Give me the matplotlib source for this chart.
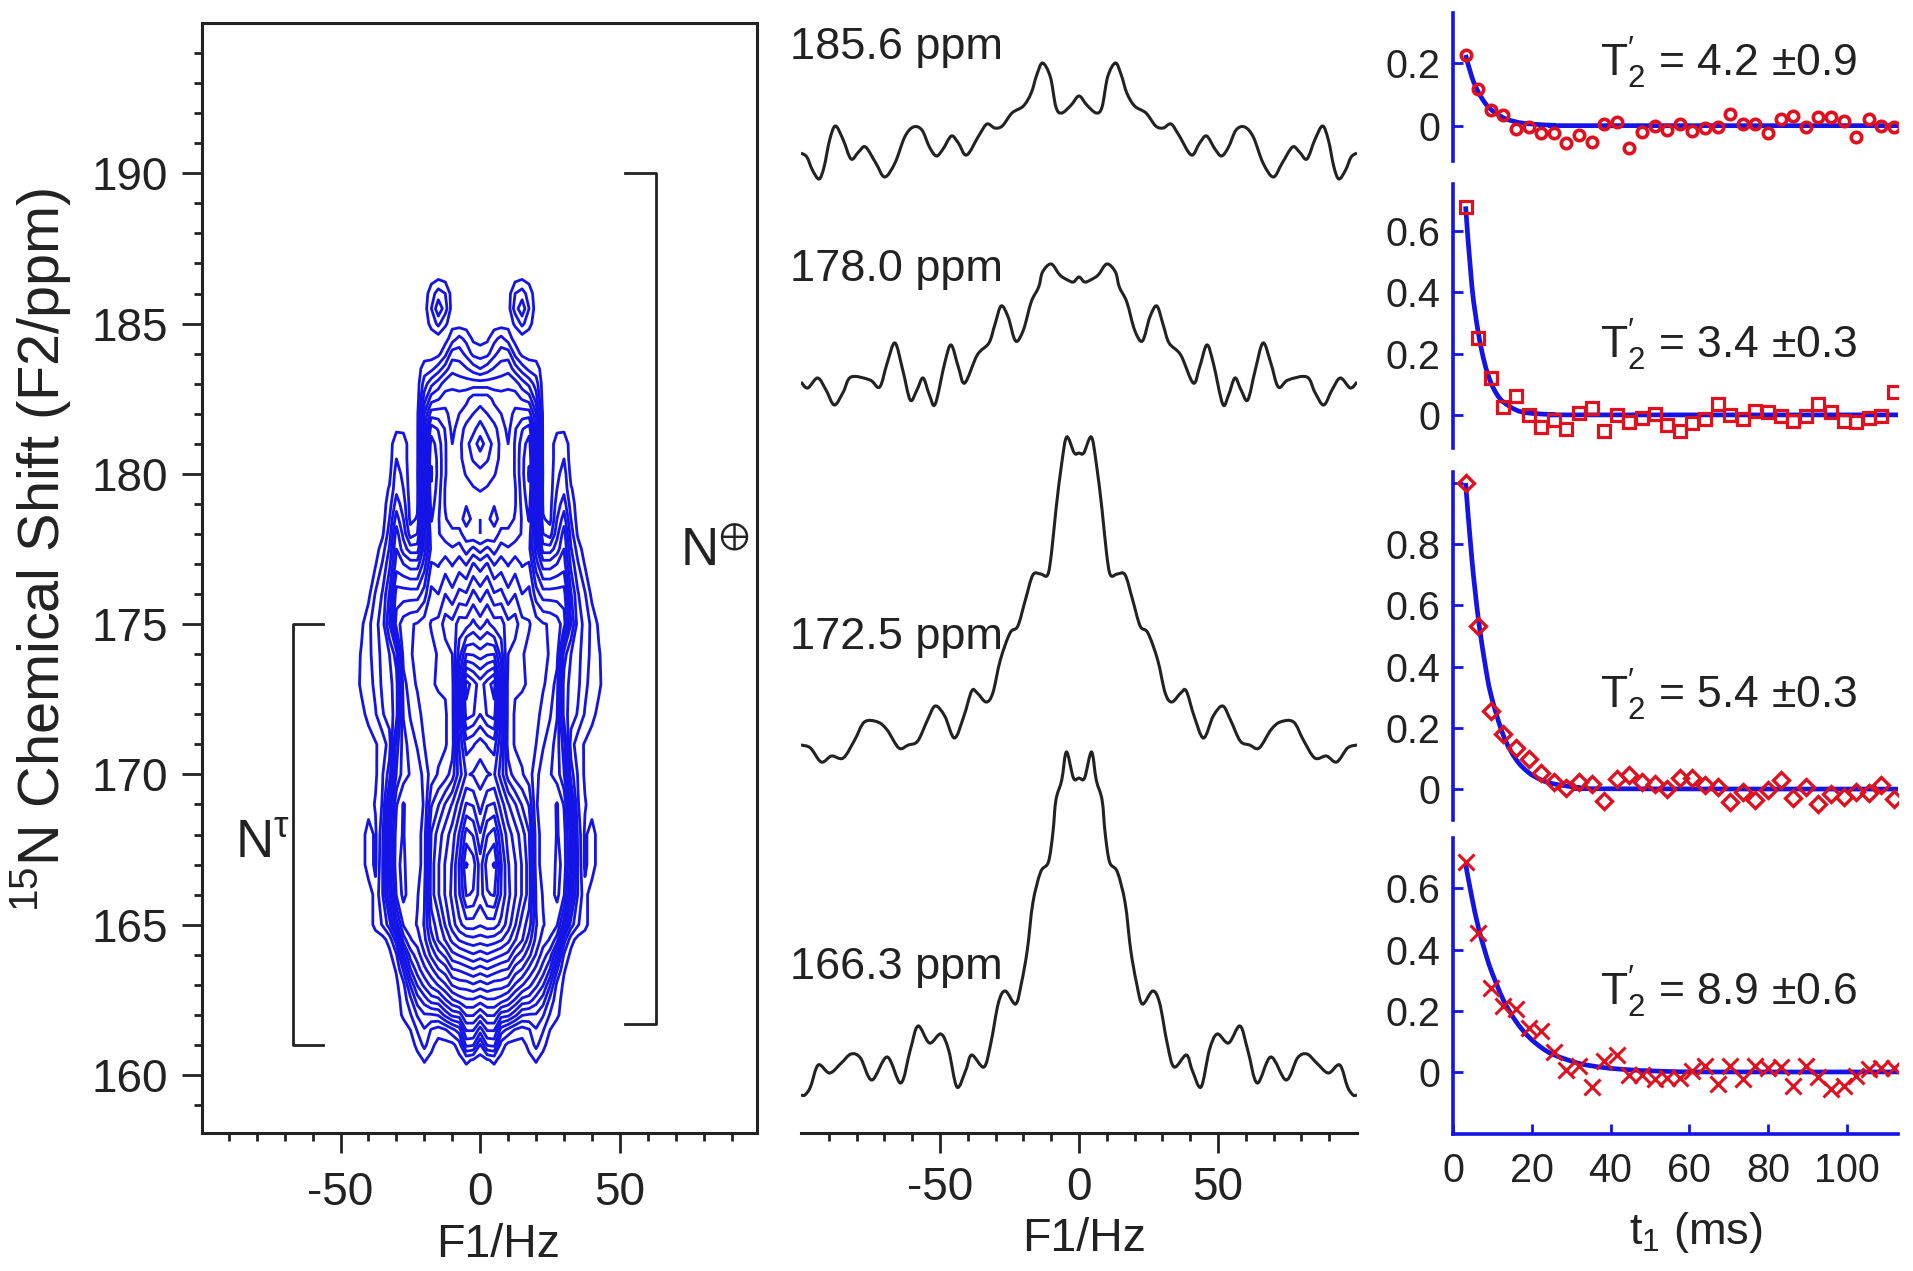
import numpy as np
import matplotlib
matplotlib.use('Agg')
import matplotlib.pyplot as plt
from matplotlib.path import Path
from matplotlib.patches import PathPatch

plt.rcParams['font.family'] = ['Liberation Sans', 'DejaVu Sans']
plt.rcParams['mathtext.fontset'] = 'custom'
plt.rcParams['mathtext.rm'] = 'Liberation Sans'
plt.rcParams['mathtext.it'] = 'Liberation Sans'
plt.rcParams['mathtext.default'] = 'regular'
plt.rcParams['axes.unicode_minus'] = False

W, H = 1913, 1271
BLUE = '#1414e6'
RED = '#e0101e'
DARK = '#222222'

# 2D spectrum, contour level (right half, mirrored at F1 = 0)
f1_cols = [0, 2.5, 5, 7.5, 10, 12.5, 15, 17.5, 20, 22.5, 25, 27.5, 30, 32.5, 35, 37.5, 40, 42.5, 45]
ppm_rows = [160, 160.5, 161, 161.5, 162, 162.5, 163, 163.5, 164, 164.5, 165,
            166, 167, 168, 169, 170, 171, 172, 173, 174, 175, 176, 177,
            177.5, 178, 178.5, 179, 179.5, 180, 180.5, 181, 181.5, 182, 182.5,
            183, 183.5, 184, 184.5, 185, 185.5, 186, 186.5, 187]
level_rows = [
    [],
    [0, .4, .7, .2, 0, 0, 0, .2, .6, .1],
    [1.4, 3.6, 3.8, 1, .2, .1, .1, .8, 1.8, .8],
    [4, 5.6, 5.6, 3, 2.2, 1.4, 1, 1.4, 2.4, 1.6, .5],
    [6.6, 7.6, 7.6, 6, 5.8, 4.8, 3.6, 3.4, 3.4, 2.6, 1.4, .7],
    [9, 9.4, 9.4, 9, 8.4, 7.4, 6.2, 6, 5, 4, 2.2, .9, .1],
    [11, 11.4, 11, 11, 10.6, 9.4, 8.6, 7.8, 6.8, 5.6, 3.6, 1.2, .3],
    [13, 13.4, 13, 12.6, 12.4, 11, 10.4, 9.2, 8.2, 7, 5.4, 2.6, .6],
    [15, 15.4, 15, 14.6, 14.2, 12.8, 12, 10.8, 9.4, 8, 7, 4.4, 1.4, .2],
    [17, 17.2, 17, 16.6, 15.8, 14.6, 13.6, 12, 10.2, 9, 8.4, 7, 3, .9, .1],
    [18.6, 19, 19, 18.2, 17, 15.6, 14, 13, 10.6, 9.6, 9, 8.6, 6, 3, 1.6, .8],
    [20, 21.4, 21.6, 19.4, 17.8, 16.6, 15.4, 14, 10.4, 9.4, 9, 9.8, 8.6, 5.4, 2.4, .8],
    [20, 22, 22.6, 19.6, 17.6, 16.6, 15.4, 14, 10, 9, 8.6, 9.8, 9.2, 6, 2.4, .3, 1],
    [18.6, 20.4, 21, 18.6, 17, 16, 15, 13.6, 10, 9, 8.6, 9.6, 9, 6, 2.2, .3, 1],
    [17, 18.4, 18.6, 17, 15.6, 14.6, 13.4, 12.4, 9.6, 9, 9, 9.6, 8.4, 5, 1.6, .6],
    [16, 16.4, 16.6, 15, 13, 12, 11.6, 11, 9.8, 9, 8.6, 8, 6.6, 3, 1.4, .3],
    [17, 17.6, 18, 15.6, 12, 11.4, 11.2, 11, 10.5, 9.6, 9, 8, 6, 2, .9, .4],
    [19.5, 20.6, 21, 16.6, 12, 11.4, 11.2, 11, 10.8, 10.2, 9.6, 8.6, 4, 3, 2.4, 1.4, .8, .2],
    [20, 21, 22, 17, 12, 11.6, 11.6, 11.4, 11, 10.6, 10.2, 9, 4, 3.2, 2.7, 1.8, 1, .7],
    [17, 17.4, 17.5, 15, 12.5, 12, 11.6, 11.2, 11, 10.8, 10.4, 10, 5, 3.5, 2.8, 2, 1.2, .6],
    [14, 14.8, 14, 14, 12.8, 13, 11.8, 11.6, 11, 10.6, 10.4, 10, 9, 5.5, 3, 2.2, 1.2, .3],
    [12, 12.8, 11.6, 11.8, 10.8, 11.5, 10.5, 10.8, 9, 8, 8, 8, 8, 4.6, 2.6, 1.6, .2],
    [10, 10.6, 9.4, 10, 9.4, 10, 9.4, 9.6, 7, 5, 5, 5.5, 6, 3.2, 1.6, .4],
    [8, 8.8, 8, 9, 8.6, 9, 8.6, 8.8, 6, 3, 3, 4, 5.5, 2.6, 1],
    [6.5, 6.6, 7, 7.8, 7.8, 8, 8.6, 9, 6, 1.5, 1, 3.2, 5, 2, .3],
    [6.5, 6.8, 6, 7, 7, 7.6, 8.6, 9.6, 6, .6, .2, 2.5, 4, 1.5],
    [7, 7, 6.6, 6.6, 6.8, 7.4, 8.8, 10, 6, .3, .1, 2, 3, 1],
    [7.6, 7.4, 7, 6.8, 6.8, 7.4, 9, 10.4, 6.2, .2, 0, 1.5, 2.2, .6],
    [8.2, 8, 7.6, 7, 6.6, 7.6, 9.2, 10.6, 6.4, .3, 0, 1.2, 2, .2],
    [9, 8.6, 8, 7.2, 6.6, 7.6, 9.2, 10.4, 6.4, .2, 0, 1, 1.5],
    [10, 9, 8.2, 7.2, 6.5, 7.6, 9, 10, 6.2, .2, 0, 1, 1.2],
    [9, 8.2, 7.8, 7, 6.2, 7.4, 8.4, 9, 5.6, .2, 0, .3, .3],
    [8, 7.5, 7, 6.5, 6, 6.8, 7, 7, 4.6, .2],
    [7, 7, 6.2, 6, 6, 6, 5.4, 5, 3],
    [5, 5, 5, 5, 5.2, 5, 4, 3.2, 2],
    [2.5, 3, 3.6, 4, 4.2, 3, 2, 1.2, 1],
    [1, 1.2, 2.2, 3, 3, 1.2, .2],
    [.1, .3, 1.2, 1.8, 1, .1],
    [0, 0, 0, 0, .2, .6, 1.8, .8],
    [0, 0, 0, 0, 0, 2, 3.2, 1.5],
    [0, 0, 0, 0, 0, 1.5, 2, 1],
    [0, 0, 0, 0, 0, .2, .4, .2],
    [],
]
contour_levels = [0.5 + i for i in range(23)]

# 1D slices, right half (F1 in Hz, height above the trace's lowest point)
slice_names = ['185.6 ppm', '178.0 ppm', '172.5 ppm', '166.3 ppm']
slice_bases = [953, 728, 370, 36]
slice_label_y = [1085, 863, 495, 165]
s1_f = [0, 2.8, 6.2, 8.3, 10.3, 13.1, 15.2, 17.2, 20, 24.1, 27.6, 30.3, 33.1, 35.9, 40.4, 43.4, 45.9, 48.9,
        51.3, 53.8, 56.5, 59.6, 62.7, 66.2, 69.9, 73.1, 76.8, 79.3, 82, 84.8, 87.6, 89.7, 91.7, 93.5, 95.9, 97.9, 100]
s1_y = [84, 75, 67, 73, 103, 117, 105, 87, 74, 67, 54, 52, 56, 45, 25, 37, 44, 31,
        24, 33, 50, 53, 43, 17, 3, 17, 33, 28, 21, 40, 54, 40, 13, 1, 10, 23, 27]
s2_f = [0, 2, 4.1, 6.9, 10, 13.1, 14.5, 17.2, 20, 22.8, 25.5, 28, 30.3, 32.4, 36.6, 41.1, 43.4, 46,
        48.3, 51.7, 53.8, 56.1, 58.3, 60.7, 63.4, 66.2, 69, 71.7, 75.2, 82, 84.8, 88, 91, 94, 97.6, 100]
s2_y = [128, 123, 125, 130, 141, 133, 118, 103, 75, 64, 88, 99, 80, 62, 50, 22, 38, 60,
        42, 1, 10, 27, 15, 5, 35, 62, 42, 18, 25, 28, 13, 0, 15, 27, 17, 23]
s3_f = [0, 1.7, 4.4, 6.2, 8.3, 9.9, 11.3, 13.8, 16.6, 19.3, 22, 24.8, 28.3, 31, 33.4, 36.6, 38.6, 41.4,
        44.8, 48.3, 51.7, 54.5, 58, 61.4, 64.8, 69, 72.4, 77.2, 80.7, 84.8, 89, 92.7, 96.6, 100]
s3_y = [310, 310, 326, 300, 253, 210, 188, 189, 188, 163, 137, 130, 103, 70, 61, 70, 72, 47,
        25, 47, 57, 43, 22, 18, 15, 33, 41, 41, 23, 5, 7, 1, 15, 18]
s4_f = [0, 2, 4.5, 6.2, 8.3, 9.4, 11, 13.8, 16.6, 18.6, 20.7, 22.8, 26.5, 29, 31.7, 34.2, 38.6, 40.7, 43.9,
        46.9, 49.7, 53.8, 57.9, 60.7, 64.1, 69, 74.5, 78.6, 82, 85.5, 89.7, 93.8, 96.6, 98.6, 100]
s4_y = [319, 319, 345, 317, 297, 264, 235, 225, 194, 147, 114, 93, 106, 94, 54, 30, 42, 27, 10,
        47, 63, 54, 71, 47, 14, 40, 17, 39, 43, 34, 24, 32, 10, 2, 2]
slice_f = [s1_f, s2_f, s3_f, s4_f]
slice_y = [s1_y, s2_y, s3_y, s4_y]

# decay data
t_ms = [3.2, 6.4, 9.6, 12.8, 16, 19.2, 22.4, 25.6, 28.8, 32, 35.2, 38.4, 41.6, 44.8, 48, 51.2, 54.4, 57.6,
        60.8, 64, 67.2, 70.4, 73.6, 76.8, 80, 83.2, 86.4, 89.6, 92.8, 96, 99.2, 102.4, 105.6, 108.8, 112]
decay1 = [.226, .117, .05, .034, -.011, -.003, -.025, -.022, -.057, -.03, -.053, .004, .013, -.07, -.02, 0, -.014, .005,
          -.017, -.009, -.005, .037, .004, .004, -.022, .021, .032, -.004, .029, .029, .014, -.035, .021, -.002, -.003]
decay2 = [.679, .25, .12, .027, .062, -.002, -.038, -.016, -.047, .005, .022, -.054, 0, -.022, -.009, .002, -.033, -.054,
          -.027, -.013, .035, 0, -.012, .014, .008, -.005, -.02, -.005, .036, .01, -.02, -.024, -.011, -.003, .074]
decay3 = [1.0, .532, .254, .181, .134, .098, .052, .022, .005, .022, .016, -.038, .033, .047, .022, .017, 0, .036,
          .036, .014, .007, -.041, -.008, -.035, -.004, .03, -.029, .007, -.048, -.015, -.026, -.011, -.013, .014, -.033]
decay4 = [.685, .454, .275, .215, .206, .144, .133, .065, .005, .019, -.05, .035, .054, -.009, -.009, -.023, -.02, -.02,
          .002, .019, -.041, .019, -.023, .021, .013, .016, -.045, .021, -.016, -.056, -.045, -.014, .008, .013, .013]
fit1_t = [3.2, 4.8, 6.4, 8, 9.6, 12.8, 16, 19.2, 25.6, 32, 113]
fit1_y = [.226, .155, .108, .075, .052, .025, .012, .006, .001, 0, 0]
fit2_t = [3.2, 4.8, 6.4, 8, 9.6, 11.2, 12.8, 16, 19.2, 25.6, 32, 113]
fit2_y = [.68, .42, .27, .17, .106, .066, .042, .016, .006, .001, 0, 0]
fit3_t = [3.2, 4.8, 6.4, 8, 9.6, 12.8, 16, 19.2, 22.4, 25.6, 32, 38, 113]
fit3_y = [1.0, .75, .56, .42, .31, .175, .097, .054, .03, .017, .005, .001, 0]
fit4_t = [3.2, 4.8, 6.4, 8, 9.6, 12.8, 16, 19.2, 22.4, 25.6, 32, 38.4, 44.8, 51.2, 64, 113]
fit4_y = [.68, .57, .475, .40, .335, .235, .165, .115, .08, .056, .028, .014, .007, .003, 0, 0]
t2_labels = ['4.2 ±0.9', '3.4 ±0.3', '5.4 ±0.3', '8.9 ±0.6']
t2_y = [.2, .225, .305, .26]


def px_axes(fig, x0, y0, x1, y1):
    # axes from pixel box, y counted from the top of the picture
    return fig.add_axes([x0 / W, 1 - y1 / H, (x1 - x0) / W, (y1 - y0) / H])


def smooth_line(ax, xs, ys, **kw):
    # bezier line through the read points, so the peaks stay round
    p = np.column_stack([xs, ys]).astype(float)
    verts = [p[0]]
    codes = [Path.MOVETO]
    n = len(p)
    for i in range(n - 1):
        a = p[max(i - 1, 0)]
        b = p[min(i + 2, n - 1)]
        verts += [p[i] + (p[i + 1] - a) / 6, p[i + 1] - (b - p[i]) / 6, p[i + 1]]
        codes += [Path.CURVE4] * 3
    ax.add_patch(PathPatch(Path(verts, codes), fc='none', **kw))


fig = plt.figure(figsize=(W / 100, H / 100), dpi=100)

# left panel: contour map
ax = px_axes(fig, 202, 23, 757, 1133)
half = np.zeros((len(ppm_rows), len(f1_cols)))
for i, row in enumerate(level_rows):
    half[i, :len(row)] = row
z = np.hstack([half[:, :0:-1], half])
f1 = np.array(f1_cols)
x = np.concatenate([-f1[:0:-1], f1])
ax.contour(x, ppm_rows, z, levels=contour_levels, colors=BLUE, linewidths=2)
ax.set_xlim(-99.6, 99.1)
ax.set_ylim(158.07, 195)
ax.set_xticks([-50, 0, 50])
ax.set_xticks([v for v in range(-90, 100, 10) if v % 50], minor=True)
ax.set_yticks([160, 165, 170, 175, 180, 185, 190])
ax.set_yticks([v for v in range(159, 195) if v % 5], minor=True)
ax.tick_params(which='major', length=14.5, width=2, labelsize=33, color=DARK, labelcolor=DARK)
ax.tick_params(axis='x', which='major', pad=13)
ax.tick_params(axis='y', which='major', pad=10)
ax.tick_params(which='minor', length=5.5, width=2, color=DARK)
for s in ax.spines.values():
    s.set_linewidth(2.2)
    s.set_color(DARK)
ax.plot([-56.3, -67, -67, -56.3], [175, 175, 161, 161], color=DARK, lw=2)
ax.plot([52, 63, 63, 52], [190, 190, 161.7, 161.7], color=DARK, lw=2)
ax.text(-78, 167.7, r'N$^{\tau}$', fontsize=38, color=DARK, ha='center', va='center')
ax.text(84, 177.4, r'N$^{\oplus}$', fontsize=38, color=DARK, ha='center', va='center')
ax.set_xlabel('F1/Hz', fontsize=33.5, color=DARK, labelpad=6)
ax.xaxis.set_label_coords(0.533, -0.081)
ax.set_ylabel(r'$^{15}$N Chemical Shift (F2/ppm)', fontsize=41.5, color=DARK)
ax.yaxis.set_label_coords(-0.232, 0.525)

# middle panel: stacked slices
ax = px_axes(fig, 801, 0, 1357, 1133)
for name, base, ly, sf, sy in zip(slice_names, slice_bases, slice_label_y, slice_f, slice_y):
    sf = np.array(sf)
    sy = np.array(sy)
    smooth_line(ax, np.concatenate([-sf[:0:-1], sf]), base + np.concatenate([sy[:0:-1], sy]), ec=DARK, lw=2.2)
    ax.text(-104, ly, name, fontsize=32.5, color=DARK, ha='left', va='center')
ax.set_xlim(-100, 100)
ax.set_ylim(0, 1133)
ax.patch.set_alpha(0)
for k in ['top', 'left', 'right']:
    ax.spines[k].set_visible(False)
ax.spines['bottom'].set_linewidth(2.2)
ax.spines['bottom'].set_color(DARK)
ax.set_yticks([])
ax.set_xticks([-50, 0, 50])
ax.set_xticks([v for v in range(-90, 100, 10) if v % 50], minor=True)
ax.tick_params(which='major', length=14.5, width=2, labelsize=33, color=DARK, labelcolor=DARK, pad=9)
ax.tick_params(which='minor', length=5.5, width=2, color=DARK)
ax.set_xlabel('F1/Hz', fontsize=33.5, color=DARK)
ax.xaxis.set_label_coords(0.51, -0.0745)

# right panels: decays
boxes = [(13, 161), (184, 448), (472, 820), (838, 1134)]
ylims = [(-.113, .36), (-.108, .753), (-.101, 1.036), (-.203, .765)]
yticks = [[0, .2], [0, .2, .4, .6], [0, .2, .4, .6, .8], [0, .2, .4, .6]]
ylabels = [['0', '0.2'], ['0', '0.2', '0.4', '0.6'], ['0', '0.2', '0.4', '0.6', '0.8'], ['0', '0.2', '0.4', '0.6']]
extra_ticks = [[], [], [1.0], []]
decays = [decay1, decay2, decay3, decay4]
fits = [(fit1_t, fit1_y), (fit2_t, fit2_y), (fit3_t, fit3_y), (fit4_t, fit4_y)]
markers = [('o', 7.5, 2.6), ('s', 9, 2.3), ('D', 8, 2.4), ('x', 12, 2.2)]
for i in range(4):
    ax = px_axes(fig, 1453, boxes[i][0], 1898, boxes[i][1])
    smooth_line(ax, fits[i][0], fits[i][1], ec=BLUE, lw=3.4, zorder=2)
    m, ms, mew = markers[i]
    ax.plot(t_ms, decays[i], ls='none', marker=m, ms=ms, mfc='none', mec=RED, mew=mew, zorder=3)
    ax.set_xlim(0, 113)
    ax.set_ylim(*ylims[i])
    ax.patch.set_alpha(0)
    for k in ['top', 'right', 'bottom']:
        ax.spines[k].set_visible(False)
    ax.spines['left'].set_linewidth(2.6)
    ax.spines['left'].set_color(BLUE)
    ax.set_yticks(yticks[i] + extra_ticks[i])
    ax.set_yticklabels(ylabels[i] + [''] * len(extra_ticks[i]))
    ax.tick_params(axis='y', direction='in', length=7.5, width=2, color=BLUE, labelsize=28.5, labelcolor=DARK, pad=9)
    ax.text(37.4, t2_y[i], r'T$_{2}^{\prime}$ = ' + t2_labels[i], fontsize=32, color=DARK, ha='left', va='center')
    if i == 3:
        ax.spines['bottom'].set_visible(True)
        ax.spines['bottom'].set_linewidth(2.6)
        ax.spines['bottom'].set_color(BLUE)
        ax.set_xticks([0, 20, 40, 60, 80, 100])
        ax.tick_params(axis='x', direction='in', length=7.5, width=2, color=BLUE, labelsize=28.5, labelcolor=DARK, pad=13)
        ax.set_xlabel('t$_{1}$ (ms)', fontsize=32.5, color=DARK)
        ax.xaxis.set_label_coords(0.546, -0.257)
    else:
        ax.set_xticks([])

fig.savefig('out.png', dpi=100)
